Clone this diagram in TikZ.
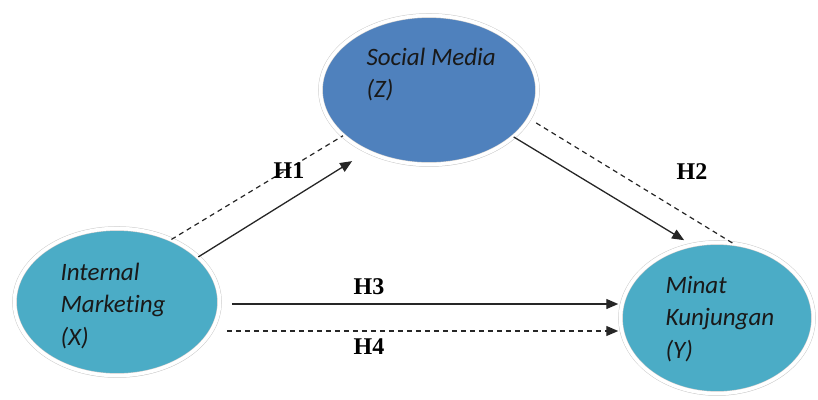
\documentclass[tikz,border=0pt]{standalone}
\usepackage{fontspec}
\setmainfont{Liberation Serif}
\newfontfamily\calib[Ligatures=NoCommon]{Carlito}
\usetikzlibrary{arrows.meta,shapes.geometric,shadows}
\definecolor{zblue}{HTML}{4F81BD}
\definecolor{xcyan}{HTML}{4BACC6}

\begin{document}
\begin{tikzpicture}[x=1pt, y=-1pt,
    var/.style={ellipse, draw=black!20, double=white, double distance=3.6pt, line width=0.5pt, inner sep=0pt,
      drop shadow={opacity=0.25, shadow xshift=1pt, shadow yshift=-2pt}},
    vtext/.style={align=left, anchor=base west, text=black!90, font=\calib\itshape\fontsize{25}{32.5}\selectfont},
    hyp/.style={font=\bfseries\fontsize{24}{26}\selectfont},
    tip/.style={-{Triangle[length=12pt, width=10pt]}},
    path/.style={tip, line width=1.3pt, draw=black!85},
    alt/.style={line width=1.2pt, draw=black!85, dash pattern=on 5pt off 4pt}]

    \useasboundingbox (0,0) rectangle (818,399);

    \node[var, fill=zblue, minimum width=217pt, minimum height=149pt] (z) at (429,90) {};
    \node[var, fill=xcyan, minimum width=205pt, minimum height=147pt] (x) at (117,302) {};
    \node[var, fill=xcyan, minimum width=193pt, minimum height=151pt] (y) at (717,318) {};

    \node[vtext] (ztxt) at (363,97.5) {Social Media\\(Z)};
    \node[vtext] (xtxt) at (57,345) {Internal\\Marketing\\(X)};
    \node[vtext] (ytxt) at (662,358) {Minat\\Kunjungan\\(Y)};

    \coordinate (h3a) at ([xshift=12pt, yshift=-2pt]x.east);
    \coordinate (h4a) at ([xshift=7pt, yshift=-29pt]x.east);

    \draw [alt] (x.49) to (z.208);
    \draw [path, shorten >=18pt] (x.29) to (z.225);
    \draw [alt, shorten <=8pt] (z.344) to (y.78);
    \draw [path, shorten >=9pt] (z.331) to (y.109);
    \draw [path, shorten >=2pt] (h3a) to (h3a -| y.west);
    \draw [alt, tip, shorten >=2pt] (h4a) to (h4a -| y.west);

    \node[hyp] (h1) at (289,171) {H1};
    \node[hyp] (h2) at (692,172) {H2};
    \node[hyp] (h3) at (369,287) {H3};
    \node[hyp] (h4) at (369,347) {H4};

  \end{tikzpicture}
\end{document}
